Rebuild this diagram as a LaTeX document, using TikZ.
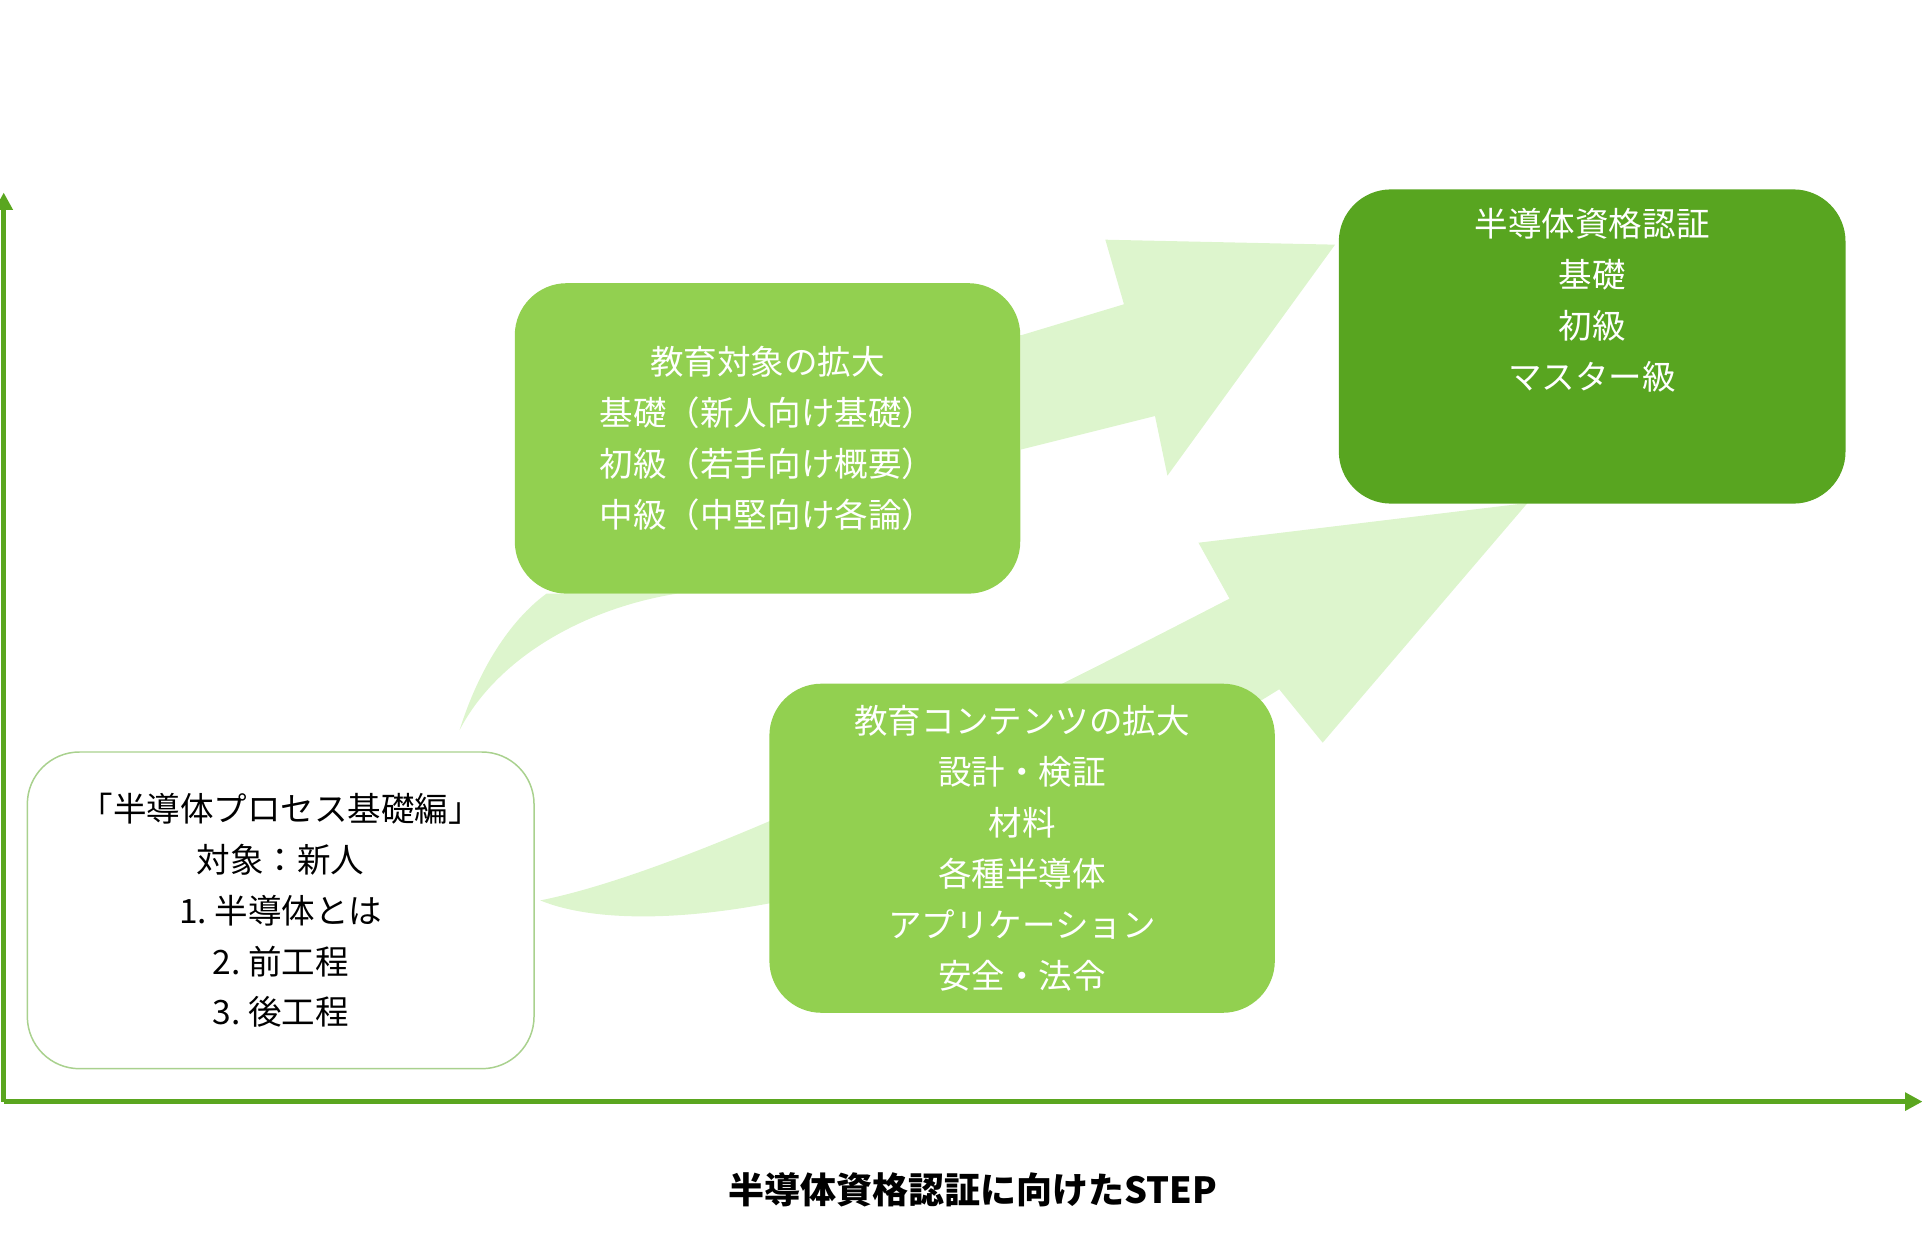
\documentclass[tikz,border=0pt]{standalone}
\usepackage{fontspec}
\setmainfont{Noto Sans CJK JP}
\usetikzlibrary{arrows.meta}
\definecolor{axisg}{HTML}{5AA61F}
\definecolor{lightg}{HTML}{A9D18E}
\definecolor{midg}{HTML}{92D050}
\definecolor{darkg}{HTML}{58A520}
\definecolor{paleg}{HTML}{DDF5CD}
\tikzset{
 boxbase/.style={rounded corners=42pt, align=center, inner sep=0pt, font=\fontsize{27}{41}\selectfont},
 whitebox/.style={boxbase, draw=lightg, line width=1.2pt, fill=white, text=black, minimum width=408pt, minimum height=255pt},
 midbox/.style={boxbase, fill=midg, text=white},
 darkbox/.style={boxbase, fill=darkg, text=white, minimum width=408pt, minimum height=253pt},
 axis/.style={draw=axisg, line width=4pt, -{Triangle[length=14pt,width=14pt]}},
 bigarrow/.style={fill=paleg, draw=none}
}
\begin{document}
\begin{tikzpicture}[x=1pt,y=-1pt]
\useasboundingbox (0,0) rectangle (1550,993);
% pale arrows
\fill[bigarrow] (370,588) .. controls (400,530) and (470,490) .. (545,478) -- (440,478) .. controls (410,500) and (385,540) .. (370,588) -- cycle;
\fill[bigarrow] (822,270) -- (905,245) -- (890,193) -- (1075,197) -- (940,383) -- (930,335) -- (822,362) -- cycle;
\fill[bigarrow] (435,725) .. controls (520,760) and (750,730) .. (1030,555) -- (1065,598) -- (1230,405) -- (965,437) -- (990,482) .. controls (800,580) and (560,700) .. (435,725) -- cycle;
% axes
\coordinate (o) at (3,887);
\coordinate (ytop) at (3,155);
\coordinate (xend) at (1548,887);
\draw[axis] (o) -- (ytop);
\draw[axis] (o) -- (xend);
% boxes
\node[whitebox] (start) at (226,733) {「半導体プロセス基礎編」\\対象：新人\\1.\ 半導体とは\\2.\ 前工程\\3.\ 後工程};
\node[midbox, minimum width=407pt, minimum height=250pt] (target) at (618,353) {教育対象の拡大\\基礎（新人向け基礎）\\初級（若手向け概要）\\中級（中堅向け各論）};
\node[midbox, minimum width=407pt, minimum height=265pt] (content) at (823,683) {教育コンテンツの拡大\\設計・検証\\材料\\各種半導体\\アプリケーション\\安全・法令};
\node[darkbox] (cert) at (1282,279) {半導体資格認証\\基礎\\初級\\マスター級\\[36pt]};
\node[font=\fontsize{29}{34}\selectfont\bfseries] (label) at (783,958) {半導体資格認証に向けたSTEP};
\end{tikzpicture}
\end{document}
